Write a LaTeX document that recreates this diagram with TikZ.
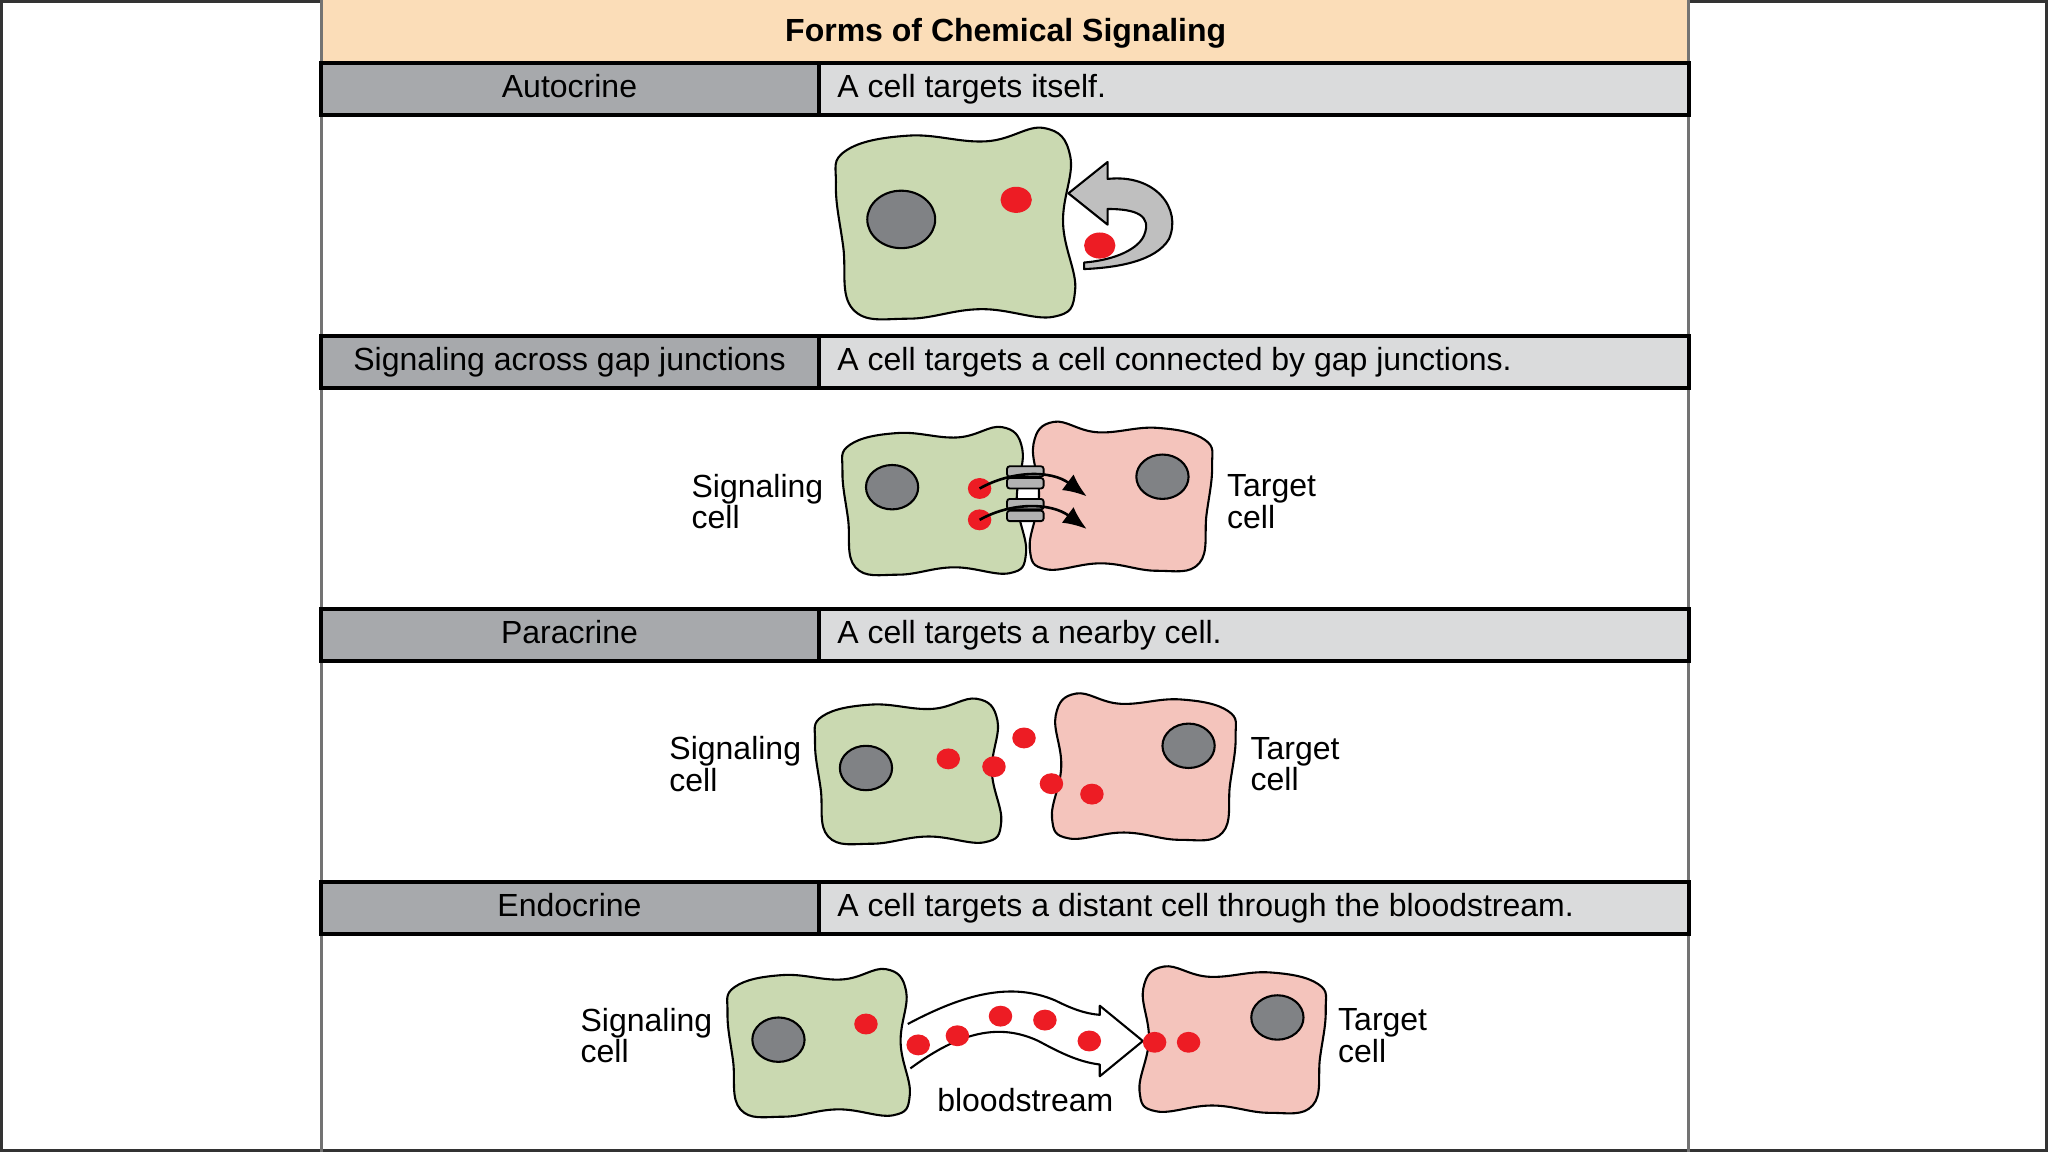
\documentclass[tikz,border=0pt]{standalone}
\usepackage{fontspec}
\setmainfont{Liberation Sans}
\usetikzlibrary{arrows.meta}
\begin{document}
\begin{tikzpicture}[x=1pt,y=-1pt,
  nuc/.style={fill=nucgray,draw=black,line width=1.6pt},
  dot/.style={fill=sigred,draw=none},
  hdrL/.style={fill=hdrdark},
  hdrR/.style={fill=hdrlight},
  txt/.style={font=\fontsize{24.5}{28}\selectfont},
  lab/.style={font=\fontsize{24.5}{24}\selectfont,align=left,anchor=west}]
\definecolor{peach}{HTML}{FBDDB8}
\definecolor{hdrdark}{HTML}{A7A9AC}
\definecolor{hdrlight}{HTML}{DADBDC}
\definecolor{cgreen}{HTML}{CAD9B1}
\definecolor{cpink}{HTML}{F4C4BC}
\definecolor{nucgray}{HTML}{808285}
\definecolor{sigred}{HTML}{ED1C24}
\newcommand\cellblob[5]{%
 \begin{scope}[shift={(#1,#2)},xscale=#3,yscale=#4]
 \draw[fill=#5,line width=1.6pt] plot[smooth cycle,tension=0.7] coordinates
 {(0.04,0.12) (0.3,0.04) (0.62,0.07) (0.86,0.0) (0.97,0.15) (0.94,0.5) (0.99,0.85) (0.9,0.99) (0.6,0.95) (0.3,1.0) (0.07,0.95) (0.03,0.62) (0.0,0.3)};
 \end{scope}}
\useasboundingbox (0,0) rectangle (1568,882);
\fill[white] (0,0) rectangle (1568,882);
\draw[line width=2pt,black!80] (1,1) rectangle (1567,881);
% title
\fill[peach] (246,0) rectangle (1293,47);
\node[font=\fontsize{24.5}{28}\selectfont\bfseries,anchor=base] (title) at (770,32) {Forms of Chemical Signaling};
% side lines
\draw[line width=2.5pt,black!55] (246,0) -- (246,882);
\draw[line width=2.5pt,black!55] (1293,0) -- (1293,882);
% header rows
\foreach \y/\l/\r [count=\i] in {48/Autocrine/A cell targets itself.,257/Signaling across gap junctions/A cell targets a cell connected by gap junctions.,466/Paracrine/A cell targets a nearby cell.,675/Endocrine/A cell targets a distant cell through the bloodstream.}{
  \draw[hdrL,line width=3pt] (246,\y) rectangle (627,\y+40);
  \draw[hdrR,line width=3pt] (627,\y) rectangle (1293,\y+40);
  \node[txt,anchor=base] (hl\i) at (436,\y+27) {\l};
  \node[txt,anchor=base west,inner sep=0pt] (hr\i) at (641,\y+27) {\r};
}
% ---- autocrine
\cellblob{640}{98}{185}{146}{cgreen}
\draw[nuc] (690,168) ellipse [x radius=26pt,y radius=22pt];
\fill[dot] (778,153) ellipse [x radius=12pt,y radius=10pt];
\fill[dot] (842,188) ellipse [x radius=12pt,y radius=10pt];
\draw[fill=black!25,line width=1.6pt,line join=round] (818,148) -- (848,124) -- (848,137)
  .. controls (885,133) and (905,160) .. (895,183)
  .. controls (885,200) and (855,205) .. (830,206) -- (830,201)
  .. controls (855,199) and (872,190) .. (876,180)
  .. controls (882,165) and (870,160) .. (848,160) -- (848,172) -- cycle;
% ---- gap junctions
\cellblob{645}{327}{142}{113}{cgreen}
\begin{scope}[shift={(928,323)},xscale=-1]\cellblob{0}{0}{141}{114}{cpink}\end{scope}
\draw[nuc] (683,373) ellipse [x radius=20pt,y radius=17pt];
\draw[nuc] (890,365) ellipse [x radius=20pt,y radius=17pt];
\foreach \yy in {357,366,382,391}{
  \draw[fill=black!30,line width=1.4pt,rounded corners=2pt] (771,\yy) rectangle (799,\yy+8);}
\fill[dot] (750,374) ellipse [x radius=9pt,y radius=8pt];
\fill[dot] (750,398) ellipse [x radius=9pt,y radius=8pt];
\coordinate (g1) at (832,380);
\coordinate (g2) at (832,405);
\draw[line width=2pt,-{Latex[length=18pt,width=15pt]}] (750,374) .. controls (775,360) and (805,360) .. (g1);
\draw[line width=2pt,-{Latex[length=18pt,width=15pt]}] (750,398) .. controls (775,384) and (805,385) .. (g2);
\node[lab] (s1) at (526,384) {Signaling\\cell};
\node[lab] (t1) at (936,384) {Target\\cell};
% ---- paracrine
\cellblob{624}{535}{144}{111}{cgreen}
\begin{scope}[shift={(946,531)},xscale=-1]\cellblob{0}{0}{142}{112}{cpink}\end{scope}
\draw[nuc] (663,588) ellipse [x radius=20pt,y radius=17pt];
\draw[nuc] (910,571) ellipse [x radius=20pt,y radius=17pt];
\foreach \px/\py in {726/581,761/587,784/565,805/600,836/608}{
  \fill[dot] (\px,\py) ellipse [x radius=9pt,y radius=8pt];}
\node[lab] (s2) at (509,585) {Signaling\\cell};
\node[lab] (t2) at (954,585) {Target\\cell};
% ---- endocrine
\cellblob{557}{742}{141}{113}{cgreen}
\begin{scope}[shift={(1015,740)},xscale=-1]\cellblob{0}{0}{144}{112}{cpink}\end{scope}
\draw[nuc] (596,796) ellipse [x radius=20pt,y radius=17pt];
\draw[nuc] (978,779) ellipse [x radius=20pt,y radius=17pt];
\fill[dot] (663,784) ellipse [x radius=9pt,y radius=8pt];
\draw[fill=white,line width=1.6pt,line join=round] (695,784)
  .. controls (740,760) and (775,752) .. (808,766)
  .. controls (820,772) and (830,776) .. (842,777) -- (842,770) -- (875,797) -- (842,824) -- (842,815)
  .. controls (825,813) and (810,805) .. (795,797)
  .. controls (765,783) and (735,790) .. (697,818);
\foreach \px/\py in {703/800,733/793,766/778,800/781,834/797,884/798,910/798}{
  \fill[dot] (\px,\py) ellipse [x radius=9pt,y radius=8pt];}
\node[txt] (bs) at (785,842) {bloodstream};
\node[lab] (s3) at (441,793) {Signaling\\cell};
\node[lab] (t3) at (1021,793) {Target\\cell};
\end{tikzpicture}
\end{document}
